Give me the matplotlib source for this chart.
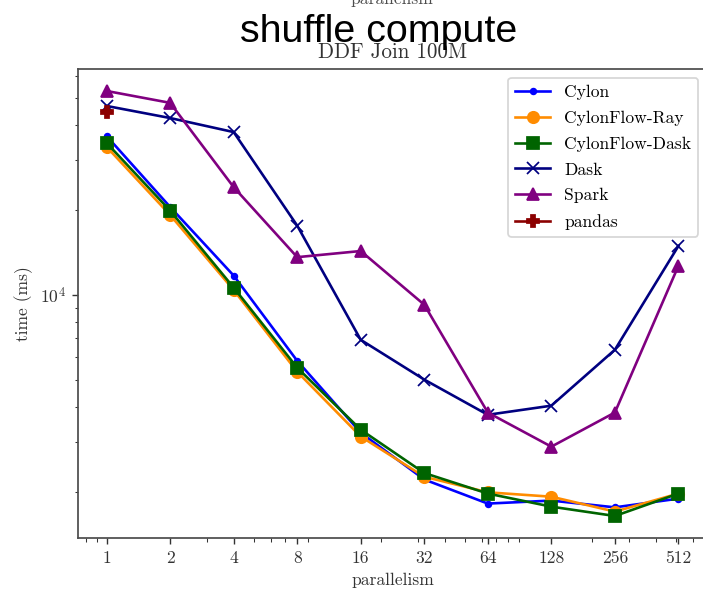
import matplotlib

matplotlib.use("Agg")
import matplotlib.pyplot as plt  # noqa: E402

parallelism = [1, 2, 4, 8, 16, 32, 64, 128, 256, 512]
cylon = [36600, 20500, 11700, 5830, 3240, 2210, 1815, 1860, 1760, 1890]
cylonflow_ray = [33500, 19200, 10400, 5330, 3140, 2260, 1990, 1920, 1700, 1970]
cylonflow_dask = [34600, 19900, 10600, 5510, 3320, 2330, 1970, 1770, 1640, 1970]
dask = [46800, 42400, 37800, 17600, 6920, 5000, 3750, 4040, 6380, 14900]
spark = [52900, 48000, 24100, 13600, 14300, 9220, 3820, 2890, 3820, 12670]
pandas_x = [1]
pandas_t = [44600]

plt.rcParams["font.family"] = "serif"
plt.rcParams["font.serif"] = ["cmr10"]
plt.rcParams["mathtext.fontset"] = "cm"
plt.rcParams["axes.formatter.use_mathtext"] = True
plt.rcParams["axes.unicode_minus"] = False
plt.rcParams["font.size"] = 10
plt.rcParams["axes.edgecolor"] = "0.3"
plt.rcParams["axes.linewidth"] = 1.0
plt.rcParams["lines.markersize"] = 6.5

fig = plt.figure(figsize=(703 / 126, 590 / 126), dpi=126)
ax = fig.add_axes([78 / 703, 52 / 590, 629 / 703, 469 / 590])

ax.plot(parallelism, cylon, marker=".", color="blue", label="Cylon")
ax.plot(parallelism, cylonflow_ray, marker="o", color="darkorange", label="CylonFlow-Ray")
ax.plot(parallelism, cylonflow_dask, marker="s", color="darkgreen", label="CylonFlow-Dask")
ax.plot(parallelism, dask, marker="x", color="navy", label="Dask")
ax.plot(parallelism, spark, marker="^", color="purple", label="Spark")
ax.plot(pandas_x, pandas_t, marker="P", color="darkred", label="pandas")

ax.set_xscale("log")
ax.set_yscale("log")
ax.set_xticks(parallelism)
ax.set_xticklabels([str(p) for p in parallelism])
ax.set_ylim(1370, 63300)
ax.set_xlabel("parallelism", color="0.2")
ax.set_ylabel("time (ms)", color="0.2")
ax.tick_params(which="both", colors="0.2")
ax.set_title("DDF Join 100M", color="0.2")
ax.legend(loc="upper right", labelspacing=0.6)

fig.text(0.539, 0.929, "shuffle compute", family="Liberation Sans", fontsize=22.5,
         ha="center", va="baseline")
fig.text(0.558, 1 - 4 / 590, "parallelism", fontsize=10, color="0.3",
         ha="center", va="baseline")

fig.savefig("out.png", dpi=126)
